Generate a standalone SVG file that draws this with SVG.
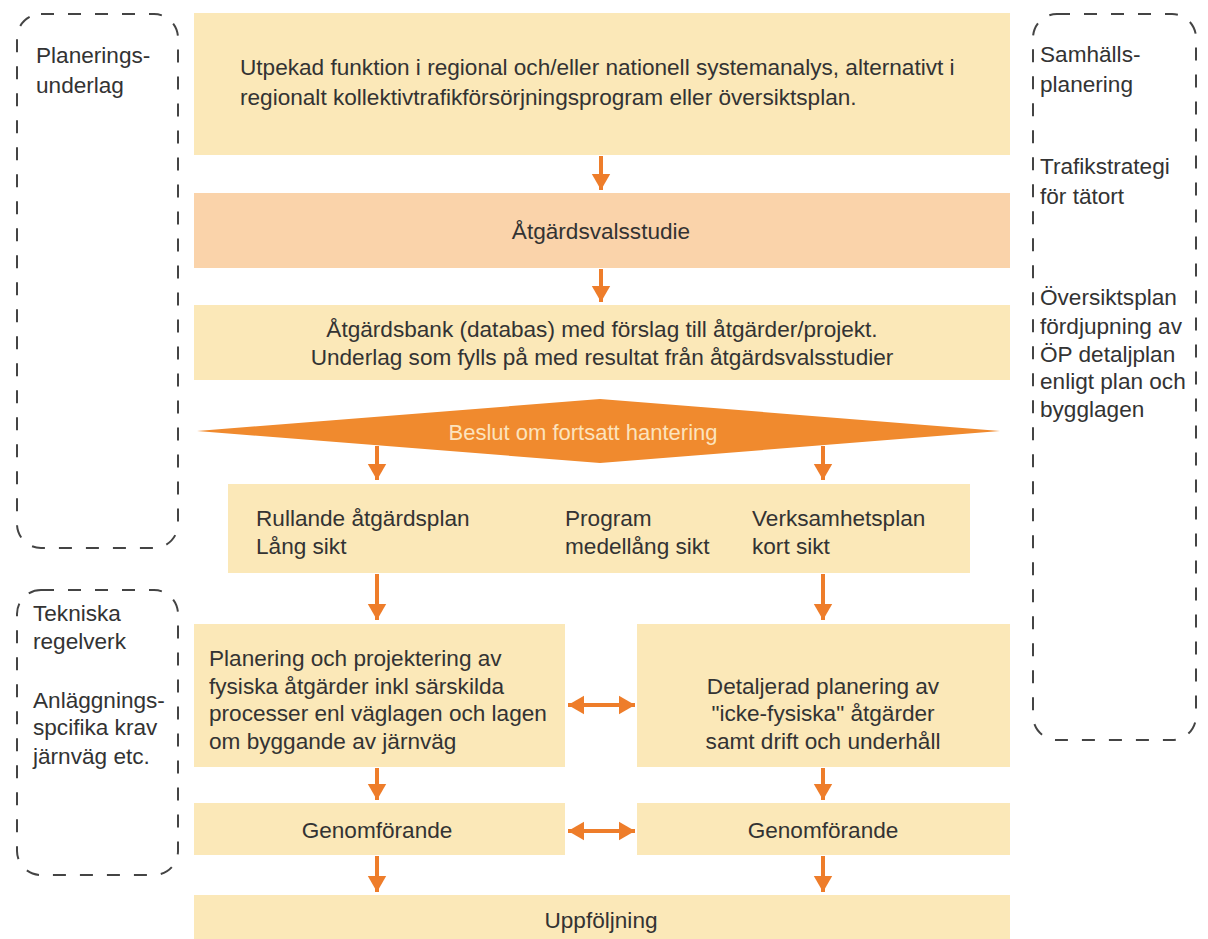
<svg xmlns="http://www.w3.org/2000/svg" width="1208" height="939" viewBox="0 0 1208 939">
<style>
.box{fill:#FBE8B8}
.peach{fill:#FAD3AA}
.t{font-family:"Liberation Sans",Arial,sans-serif;font-size:22.6px;fill:#333}
.c{text-anchor:middle}
.side{fill:none;stroke:#444;stroke-width:2;stroke-dasharray:13 14}
.ar{stroke:#EE7D2A;stroke-width:4;fill:none}
</style>
<defs>
<marker id="ah" markerWidth="6" markerHeight="6" refX="4" refY="3" orient="auto-start-reverse" markerUnits="strokeWidth">
<path d="M0,0.7 L4,3 L0,5.3 Z" fill="#EE7D2A"/>
</marker>
</defs>
<rect width="1208" height="939" fill="#fff"/>

<g id="side-left-top">
<rect class="side" x="17" y="14" width="161" height="534" rx="24"/>
<text class="t" x="36" y="63">Planerings-</text>
<text class="t" x="36" y="93">underlag</text>
</g>
<g id="side-left-bottom">
<rect class="side" x="17" y="590" width="161" height="285" rx="24"/>
<text class="t" x="33" y="621">Tekniska</text>
<text class="t" x="33" y="649">regelverk</text>
<text class="t" x="33" y="708">Anläggnings-</text>
<text class="t" x="33" y="735">spcifika krav</text>
<text class="t" x="33" y="764">järnväg etc.</text>
</g>
<g id="side-right">
<rect class="side" x="1033" y="14" width="163" height="726" rx="24"/>
<text class="t" x="1040" y="62">Samhälls-</text>
<text class="t" x="1040" y="92">planering</text>
<text class="t" x="1040" y="174">Trafikstrategi</text>
<text class="t" x="1040" y="204">för tätort</text>
<text class="t" x="1040" y="305">Översiktsplan</text>
<text class="t" x="1040" y="334">fördjupning av</text>
<text class="t" x="1040" y="362">ÖP detaljplan</text>
<text class="t" x="1040" y="389">enligt plan och</text>
<text class="t" x="1040" y="417">bygglagen</text>
</g>

<g id="n-utpekad">
<rect class="box" x="194" y="13" width="816" height="142"/>
<text class="t" x="240" y="75">Utpekad funktion i regional och/eller nationell systemanalys, alternativt i</text>
<text class="t" x="240" y="105">regionalt kollektivtrafikförsörjningsprogram eller översiktsplan.</text>
</g>
<g id="n-avs">
<rect class="peach" x="194" y="193" width="816" height="75"/>
<text class="t c" x="601" y="239">Åtgärdsvalsstudie</text>
</g>
<g id="n-bank">
<rect class="box" x="194" y="305" width="816" height="75"/>
<text class="t c" x="602" y="337">Åtgärdsbank (databas) med förslag till åtgärder/projekt.</text>
<text class="t c" x="602" y="365">Underlag som fylls på med resultat från åtgärdsvalsstudier</text>
</g>
<g id="n-beslut">
<polygon points="197,431 600,399 1000,431 600,463" fill="#F08A2E"/>
<text class="c" x="583" y="440" font-family="Liberation Sans,Arial,sans-serif" font-size="22" fill="#FCE3BD">Beslut om fortsatt hantering</text>
</g>
<g id="n-planer">
<rect class="box" x="228" y="484" width="742" height="89"/>
<text class="t" x="256" y="526">Rullande åtgärdsplan</text>
<text class="t" x="256" y="554">Lång sikt</text>
<text class="t" x="565" y="526">Program</text>
<text class="t" x="565" y="554">medellång sikt</text>
<text class="t" x="752" y="526">Verksamhetsplan</text>
<text class="t" x="752" y="554">kort sikt</text>
</g>
<g id="n-fysiska">
<rect class="box" x="194" y="624" width="371" height="143"/>
<text class="t" x="209" y="666">Planering och projektering av</text>
<text class="t" x="209" y="694">fysiska åtgärder inkl särskilda</text>
<text class="t" x="209" y="721">processer enl väglagen och lagen</text>
<text class="t" x="209" y="749">om byggande av järnväg</text>
</g>
<g id="n-ickefysiska">
<rect class="box" x="637" y="624" width="373" height="143"/>
<text class="t c" x="823" y="694">Detaljerad planering av</text>
<text class="t c" x="823" y="721">"icke-fysiska" åtgärder</text>
<text class="t c" x="823" y="749">samt drift och underhåll</text>
</g>
<g id="n-genomf-l">
<rect class="box" x="194" y="803" width="371" height="52"/>
<text class="t c" x="377" y="838">Genomförande</text>
</g>
<g id="n-genomf-r">
<rect class="box" x="637" y="803" width="373" height="52"/>
<text class="t c" x="823" y="838">Genomförande</text>
</g>
<g id="n-uppf">
<rect class="box" x="194" y="895" width="816" height="44"/>
<text class="t c" x="601" y="928">Uppföljning</text>
</g>

<g id="connectors">
<line class="ar" x1="601" y1="156" x2="601" y2="190" marker-end="url(#ah)"/>
<line class="ar" x1="601" y1="269" x2="601" y2="302" marker-end="url(#ah)"/>
<line class="ar" x1="377" y1="446" x2="377" y2="480" marker-end="url(#ah)"/>
<line class="ar" x1="823" y1="446" x2="823" y2="480" marker-end="url(#ah)"/>
<line class="ar" x1="377" y1="574" x2="377" y2="620" marker-end="url(#ah)"/>
<line class="ar" x1="823" y1="574" x2="823" y2="620" marker-end="url(#ah)"/>
<line class="ar" x1="377" y1="768" x2="377" y2="800" marker-end="url(#ah)"/>
<line class="ar" x1="823" y1="768" x2="823" y2="800" marker-end="url(#ah)"/>
<line class="ar" x1="377" y1="856" x2="377" y2="892" marker-end="url(#ah)"/>
<line class="ar" x1="823" y1="856" x2="823" y2="892" marker-end="url(#ah)"/>
<line class="ar" x1="568" y1="705" x2="635" y2="705" marker-start="url(#ah)" marker-end="url(#ah)"/>
<line class="ar" x1="568" y1="831" x2="635" y2="831" marker-start="url(#ah)" marker-end="url(#ah)"/>
</g>
</svg>
